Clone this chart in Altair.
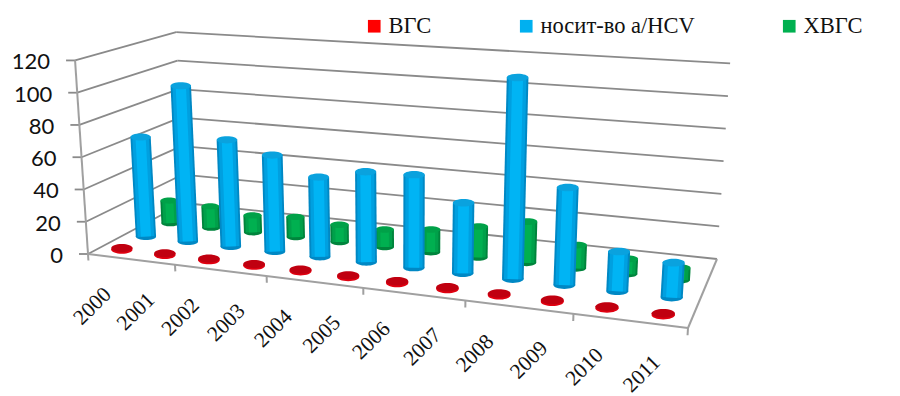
import altair as alt
import numpy as np
import pandas as pd

# Values per year
years = [str(y) for y in range(2000, 2012)]
series_names = ["ВГС", "носит-во а/HCV", "ХВГС"]
vgs = [1, 1, 1, 1, 1, 1, 1, 1, 1, 1, 1, 1]
carriers = [64, 99, 67, 60, 49, 55, 56, 42, 119, 57, 23, 20]
chronic = [15, 14, 11, 13, 11, 11, 14, 19, 25, 14, 9, 7]
y_ticks = [0, 20, 40, 60, 80, 100, 120]
x_tick_steps = [0, 2, 4, 6, 8, 10, 12]

W, H = 900, 396
Y_MAX = 120

# Floor corners on the page: front-left, front-right, back-right, back-left
FLOOR = [(88, 254), (688, 328), (717, 259), (184, 203)]
# Drawn height of the full value range at the same four corners
WALL_HEIGHT = [194, 219, 196, 171]
# Verticals converge on this point far below the page
VANISH = (402, 4950)


def homography(q):
    (x0, y0), (x1, y1), (x2, y2), (x3, y3) = q
    dx1, dx2, sx = x1 - x2, x3 - x2, x0 - x1 + x2 - x3
    dy1, dy2, sy = y1 - y2, y3 - y2, y0 - y1 + y2 - y3
    den = dx1 * dy2 - dx2 * dy1
    g = (sx * dy2 - dx2 * sy) / den
    h = (dx1 * sy - sx * dy1) / den
    m = (x1 - x0 + g * x1, x3 - x0 + h * x3, x0,
         y1 - y0 + g * y1, y3 - y0 + h * y3, y0, g, h)

    def apply(u, v):
        a, b, c, d, e, f, gg, hh = m
        k = gg * u + hh * v + 1
        return (a * u + b * v + c) / k, (d * u + e * v + f) / k

    return apply


floor_map = homography(FLOOR)


def project(u, v, w):
    """Perspective position of category fraction u, depth v and value w."""
    fx, fy = floor_map(u, v)
    h0, h1, h2, h3 = WALL_HEIGHT
    full = (h0 * (1 - u) + h1 * u) * (1 - v) + (h3 * (1 - u) + h2 * u) * v
    dx, dy = fx - VANISH[0], fy - VANISH[1]
    n = np.hypot(dx, dy)
    t = full * w / Y_MAX
    return float(fx + dx / n * t), float(fy + dy / n * t)


# Depth of each series in the box and its cylinder diameter
DEPTH = {"ВГС": 0.12, "носит-во а/HCV": 0.36, "ХВГС": 0.62}
DIAMETER = {"ВГС": 22, "носит-во а/HCV": 21, "ХВГС": 18.5}
CATEGORY_CENTRE = 0.5


def cylinders(name, values):
    rows = []
    for i, (year, val) in enumerate(zip(years, values)):
        u = (i + CATEGORY_CENTRE) / len(years)
        v = DEPTH[name]
        x0, y0 = project(u, v, 0)
        x1, y1 = project(u, v, val)
        d = DIAMETER[name] * (0.96 + 0.1 * u)
        rows.append(dict(year=year, series=name, value=val, bx=x0, by=y0,
                         tx=x1, ty=y1, d=d, size=d * d))
    return pd.DataFrame(rows)


sx = alt.Scale(domain=[0, W], nice=False, zero=False)
sy = alt.Scale(domain=[H, 0], nice=False, zero=False)
colour = alt.Color(
    "series:N",
    scale=alt.Scale(domain=series_names, range=["#ff0000", "#00b0f0", "#00b050"]),
    legend=alt.Legend(
        title=None, orient="none", legendX=363, legendY=15, direction="horizontal",
        columns=3, columnPadding=83, gridAlign="none", symbolType="square",
        symbolSize=160, symbolStrokeWidth=0, labelFont="Liberation Serif",
        labelFontSize=22.5, labelColor="#111111", labelOffset=3, padding=0,
    ),
)
ELLIPSE = "M-1,0A1,0.35,0,1,1,1,0A1,0.35,0,1,1,-1,0Z"
FLAT_ELLIPSE = "M-1,0A1,0.38,0,1,1,1,0A1,0.38,0,1,1,-1,0Z"


def seg_layer(df, color, width):
    return alt.Chart(df).mark_rule(color=color, strokeWidth=width).encode(
        x=alt.X("x:Q", scale=sx, axis=None), y=alt.Y("y:Q", scale=sy, axis=None),
        x2="x2:Q", y2="y2:Q",
    )


def cylinder_layers(df, shades, cap, shape=ELLIPSE):
    layers = [
        alt.Chart(df).mark_point(shape=shape, filled=True, opacity=1, color=shades[0][0]).encode(
            x=alt.X("bx:Q", scale=sx, axis=None), y=alt.Y("by:Q", scale=sy, axis=None),
            size=alt.Size("size:Q", scale=None, legend=None),
        )
    ]
    for shade, frac in shades:
        d2 = df.assign(w=df["d"] * frac)
        layers.append(
            alt.Chart(d2).mark_rule(color=shade).encode(
                x=alt.X("bx:Q", scale=sx, axis=None), y=alt.Y("by:Q", scale=sy, axis=None),
                x2="tx:Q", y2="ty:Q",
                size=alt.Size("w:Q", scale=None, legend=None),
            )
        )
    layers.append(
        alt.Chart(df).mark_point(shape=shape, filled=True, opacity=1, color=cap).encode(
            x=alt.X("tx:Q", scale=sx, axis=None), y=alt.Y("ty:Q", scale=sy, axis=None),
            size=alt.Size("size:Q", scale=None, legend=None),
        )
    )
    return layers


# Wall gridlines, floor edges and ticks
walls = []
for tick in y_ticks:
    ax, ay = project(0, 0, tick)
    cx, cy = project(0, 1, tick)
    rx, ry = project(1, 1, tick)
    walls.append(dict(x=ax, y=ay, x2=cx, y2=cy))
    walls.append(dict(x=cx, y=cy, x2=rx, y2=ry))
    walls.append(dict(x=ax - 9, y=ay, x2=ax, y2=ay))
walls = pd.DataFrame(walls)

edges = []
for a, b in [((0, 0), (1, 0)), ((1, 0), (1, 1))]:
    p = project(a[0], a[1], 0)
    q = project(b[0], b[1], 0)
    edges.append(dict(x=p[0], y=p[1], x2=q[0], y2=q[1]))
for step in x_tick_steps:
    p = project(step / len(years), 0, 0)
    q = project(step / len(years), 0, -4)
    edges.append(dict(x=p[0], y=p[1], x2=q[0], y2=q[1]))
p = project(0, 0, 0)
q = project(0, 0, Y_MAX)
edges.append(dict(x=p[0], y=p[1], x2=q[0], y2=q[1]))
edges = pd.DataFrame(edges)

# Axis labels follow the box edges
y_labels = pd.DataFrame(
    [dict(label=str(t), x=project(0, 0, t)[0] - 25, y=project(0, 0, t)[1] + 2) for t in y_ticks]
)
x_labels = pd.DataFrame(
    [
        dict(label=yr, x=project((i + CATEGORY_CENTRE) / len(years), 0, 0)[0] - 16.5,
             y=project((i + CATEGORY_CENTRE) / len(years), 0, 0)[1] + 50)
        for i, yr in enumerate(years)
    ]
)

red = cylinders(series_names[0], vgs)
blue = cylinders(series_names[1], carriers)
green = cylinders(series_names[2], chronic)

legend_source = pd.DataFrame({"series": series_names, "x": [-50] * 3, "y": [-50] * 3})
legend_layer = alt.Chart(legend_source).mark_point(filled=True, opacity=1, shape="square").encode(
    x=alt.X("x:Q", scale=sx, axis=None), y=alt.Y("y:Q", scale=sy, axis=None),
    color=colour,
)

layers = [
    seg_layer(walls, "#8a8a8a", 1.8),
    seg_layer(edges, "#a0a0a0", 2),
    *cylinder_layers(green, [("#00843c", 1.0), ("#00a04a", 0.8), ("#00b050", 0.45)], "#00a148"),
    *cylinder_layers(blue, [("#0088c4", 1.0), ("#00a0e0", 0.82), ("#00b4f4", 0.5)], "#0aa2de"),
    *cylinder_layers(red, [("#e00010", 1.0)], "#c00010", FLAT_ELLIPSE),
    alt.Chart(y_labels).mark_text(font="Lato", fontSize=22, align="right", baseline="middle", color="#111111").encode(
        x=alt.X("x:Q", scale=sx, axis=None), y=alt.Y("y:Q", scale=sy, axis=None), text="label:N"
    ),
    alt.Chart(x_labels).mark_text(font="Liberation Serif", fontSize=21.5, angle=315, align="center", baseline="middle", color="#111111").encode(
        x=alt.X("x:Q", scale=sx, axis=None), y=alt.Y("y:Q", scale=sy, axis=None), text="label:N"
    ),
    legend_layer,
]

chart = alt.layer(*layers).properties(
    width=W, height=H, padding=0, autosize=alt.AutoSizeParams(type="none"),
    background="white",
).configure_view(stroke=None, clip=False)

chart.save("out.html", embed_options={"renderer": "svg", "actions": False})
